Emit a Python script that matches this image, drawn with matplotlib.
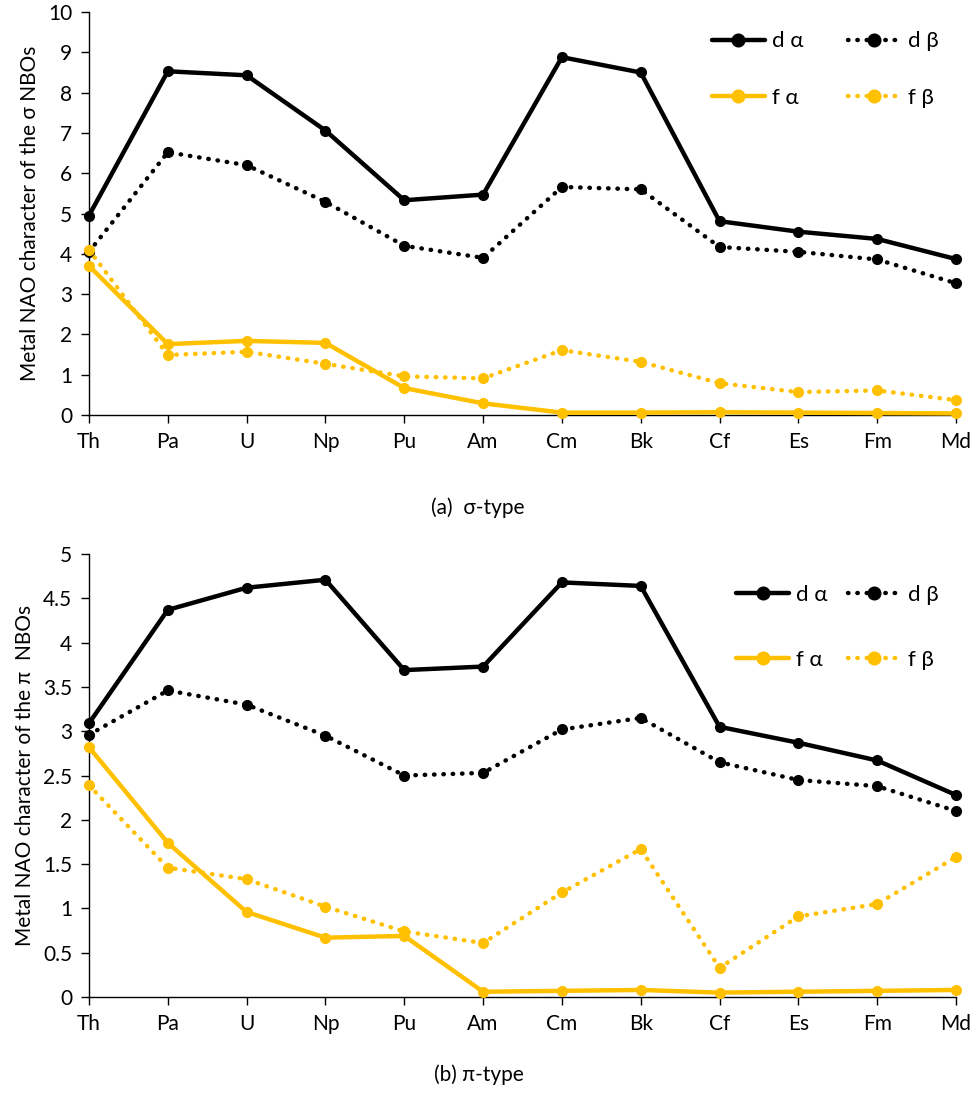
import matplotlib
matplotlib.use("Agg")
import matplotlib.pyplot as plt

plt.rcParams['font.family'] = ['Lato', 'DejaVu Sans']

elements = ["Th", "Pa", "U", "Np", "Pu", "Am", "Cm", "Bk", "Cf", "Es", "Fm", "Md"]

# (a) sigma-type
sigma_d_alpha = [4.95, 8.53, 8.43, 7.06, 5.33, 5.47, 8.88, 8.50, 4.81, 4.55, 4.37, 3.87]
sigma_d_beta = [4.05, 6.52, 6.20, 5.29, 4.20, 3.90, 5.66, 5.60, 4.17, 4.05, 3.86, 3.27]
sigma_f_alpha = [3.70, 1.76, 1.84, 1.79, 0.67, 0.29, 0.06, 0.06, 0.07, 0.06, 0.05, 0.04]
sigma_f_beta = [4.10, 1.49, 1.57, 1.27, 0.96, 0.91, 1.61, 1.32, 0.79, 0.57, 0.61, 0.37]

# (b) pi-type
pi_d_alpha = [3.09, 4.37, 4.62, 4.71, 3.69, 3.73, 4.68, 4.64, 3.05, 2.87, 2.67, 2.28]
pi_d_beta = [2.96, 3.46, 3.30, 2.95, 2.50, 2.53, 3.02, 3.15, 2.65, 2.45, 2.38, 2.10]
pi_f_alpha = [2.82, 1.74, 0.96, 0.67, 0.69, 0.06, 0.07, 0.08, 0.05, 0.06, 0.07, 0.08]
pi_f_beta = [2.39, 1.46, 1.33, 1.02, 0.74, 0.61, 1.18, 1.67, 0.33, 0.91, 1.05, 1.58]

sigma_yticks = list(range(0, 11))
pi_yticks = [0, 0.5, 1, 1.5, 2, 2.5, 3, 3.5, 4, 4.5, 5]
pi_ytick_labels = ["0", "0.5", "1", "1.5", "2", "2.5", "3", "3.5", "4", "4.5", "5"]

BLACK = "#000000"
GOLD = "#FFC000"
FS = 15

fig = plt.figure(figsize=(9.79, 11.05), dpi=100)
ax1 = fig.add_axes([0.0909, 0.6244, 0.8856, 0.3647])
ax2 = fig.add_axes([0.0909, 0.0977, 0.8856, 0.4009])

dot_ls = (0, (0.1, 2.0))


def draw(ax, da, db, fa, fb, yticks, ylabels, ymax, ylabel, legend_y, lspacing, cspacing):
    x = list(range(len(elements)))
    l_da, = ax.plot(x, da, color=BLACK, lw=3.2, marker='o', ms=7, clip_on=False, zorder=4,
                    solid_capstyle='round')
    l_db, = ax.plot(x, db, color=BLACK, lw=3.2, ls=dot_ls, dash_capstyle='round', marker='o',
                    ms=7, clip_on=False, zorder=3)
    l_fa, = ax.plot(x, fa, color=GOLD, lw=3.2, marker='o', ms=7, clip_on=False, zorder=4,
                    solid_capstyle='round')
    l_fb, = ax.plot(x, fb, color=GOLD, lw=3.2, ls=dot_ls, dash_capstyle='round', marker='o',
                    ms=7, clip_on=False, zorder=3)
    ax.set_xlim(0, len(elements) - 1)
    ax.set_ylim(0, ymax)
    ax.set_xticks(x)
    ax.set_xticklabels(elements, fontsize=FS)
    ax.set_yticks(yticks)
    ax.set_yticklabels(ylabels, fontsize=FS)
    for s in ['top', 'right']:
        ax.spines[s].set_visible(False)
    for s in ['left', 'bottom']:
        ax.spines[s].set_linewidth(1.0)
        ax.spines[s].set_color('#000000')
    ax.tick_params(axis='both', direction='out', length=6, width=1.0, pad=6)
    ax.set_ylabel(ylabel, fontsize=FS, labelpad=6)
    leg = ax.legend([l_da, l_fa, l_db, l_fb], ["d α", "f α", "d β", "f β"], ncol=2,
                    loc='upper right', bbox_to_anchor=(0.995, legend_y), frameon=False,
                    fontsize=FS + 1, numpoints=1, handlelength=2.4, handletextpad=0.3,
                    columnspacing=cspacing, labelspacing=lspacing, markerscale=1.3,
                    borderaxespad=0.2)
    return leg


draw(ax1, sigma_d_alpha, sigma_d_beta, sigma_f_alpha, sigma_f_beta,
     sigma_yticks, [str(v) for v in sigma_yticks], 10,
     "Metal NAO character of the σ NBOs", 0.985, 1.65, 2.0)
draw(ax2, pi_d_alpha, pi_d_beta, pi_f_alpha, pi_f_beta,
     pi_yticks, pi_ytick_labels, 5,
     "Metal NAO character of the π  NBOs", 0.96, 2.0, 0.9)

fig.text(478 / 979, 1 - 508 / 1105, "(a)  σ-type", ha='center', va='center', fontsize=FS)
fig.text(479 / 979, 1 - 1075 / 1105, "(b) π-type", ha='center', va='center', fontsize=FS)

fig.savefig("out.png", dpi=100, facecolor='white')
